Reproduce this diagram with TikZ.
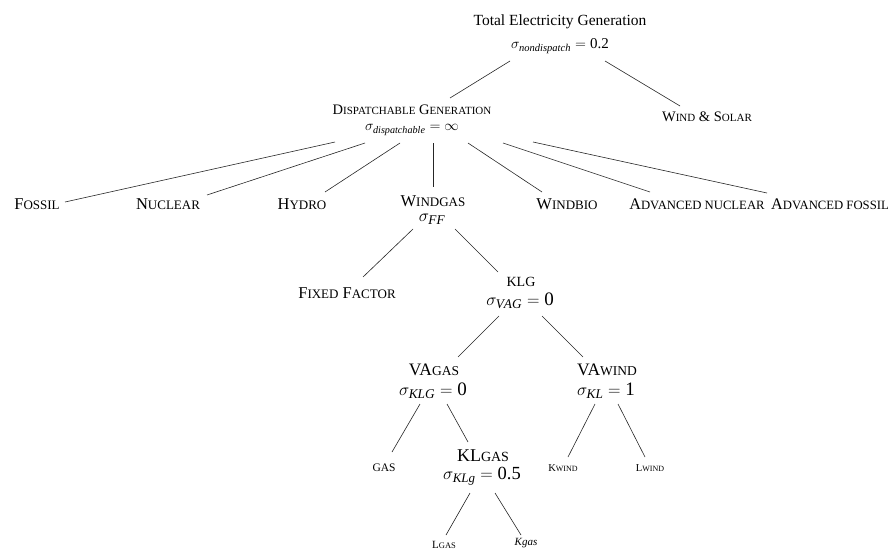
\documentclass[tikz,border=0pt]{standalone}
\usepackage{fontspec}
\setmainfont{Liberation Serif}
\newcommand\fsz[1]{\fontsize{#1}{#1}\selectfont}
\newcommand\conn[6]{\draw[edge] ([shift={(#2,#3)}]#1.center) -- ([shift={(#5,#6)}]#4.center);}
\begin{document}
\begin{tikzpicture}[x=1pt,y=-1pt,
  lbl/.style={inner sep=0pt, outer sep=0pt},
  edge/.style={line width=0.6pt, black!85}]
\useasboundingbox (0,0) rectangle (890,557);
% level 0
\node[lbl] (top) at (560,22) {\fsz{15.5}Total Electricity Generation};
\node[lbl] (topsig) at (560,46) {\fsz{15}$\sigma_{\mathit{nondispatch}} = \mbox{0.2}$};
% level 1
\node[lbl] (disp) at (412,110) {\fsz{14.5}D{\fsz{11}ISPATCHABLE} G{\fsz{11}ENERATION}};
\node[lbl] (dispsig) at (412,130) {\fsz{14.5}$\sigma_{\mathit{dispatchable}} = \infty$};
\node[lbl] (ws) at (707,117) {\fsz{14.5}W{\fsz{11}IND} \& S{\fsz{11}OLAR}};
% level 2
\node[lbl] (fossil) at (37,204) {\fsz{16.5}F{\fsz{13}OSSIL}};
\node[lbl] (nuclear) at (168,204) {\fsz{16.5}N{\fsz{13}UCLEAR}};
\node[lbl] (hydro) at (302,204) {\fsz{16.5}H{\fsz{13}YDRO}};
\node[lbl] (windgas) at (433,201) {\fsz{16.5}W{\fsz{13}INDGAS}};
\node[lbl] (windgassig) at (432,219) {\fsz{19}$\sigma_{\mathit{FF}}$};
\node[lbl] (windbio) at (567,204) {\fsz{16.5}W{\fsz{13}INDBIO}};
\node[lbl] (advnuc) at (697,204) {\fsz{16.2}A{\fsz{12.7}DVANCED NUCLEAR}};
\node[lbl] (advfos) at (830,204) {\fsz{16.2}A{\fsz{12.7}DVANCED FOSSIL}};
% level 3
\node[lbl] (fixed) at (347,293) {\fsz{16.5}F{\fsz{13}IXED} F{\fsz{13}ACTOR}};
\node[lbl] (klg) at (521,282) {\fsz{14}KLG};
\node[lbl] (klgsig) at (520,301) {\fsz{19}$\sigma_{\mathit{VAG}} = \mbox{0}$};
% level 4
\node[lbl] (vagas) at (434,370) {\fsz{17.5}VA{\fsz{13.5}GAS}};
\node[lbl] (vagassig) at (433,391) {\fsz{19}$\sigma_{\mathit{KLG}} = \mbox{0}$};
\node[lbl] (vawind) at (607,370) {\fsz{17.5}VA{\fsz{13.5}WIND}};
\node[lbl] (vawindsig) at (606,391) {\fsz{19}$\sigma_{\mathit{KL}} = \mbox{1}$};
% level 5
\node[lbl] (gas) at (384,468) {\fsz{11.5}GAS};
\node[lbl] (klgas) at (483,456) {\fsz{18}KL{\fsz{14}GAS}};
\node[lbl] (klgassig) at (482,476) {\fsz{18.5}$\sigma_{\mathit{KLg}} = \mbox{0.5}$};
\node[lbl] (kwind) at (563,468) {\fsz{10.5}K{\fsz{8}WIND}};
\node[lbl] (lwind) at (650,468) {\fsz{10.5}L{\fsz{8}WIND}};
% level 6
\node[lbl] (lgas) at (444,545) {\fsz{11}L{\fsz{8.5}GAS}};
\node[lbl] (kgas) at (526,543) {\fsz{11}\textit{Kgas}};
% connectors
\conn{topsig}{-50}{15}{disp}{38}{-12}
\conn{topsig}{45}{15}{ws}{-27}{-11}
\conn{dispsig}{-77}{12}{fossil}{28}{-2}
\conn{dispsig}{-47}{13}{nuclear}{39}{-9}
\conn{dispsig}{-12}{13}{hydro}{23}{-12}
\conn{dispsig}{21}{13}{windgas}{0}{-14}
\conn{dispsig}{56}{13}{windbio}{-25}{-12}
\conn{dispsig}{91}{13}{advnuc}{-47}{-12}
\conn{dispsig}{121}{12}{advfos}{-63}{-11}
\conn{windgassig}{-19}{10}{fixed}{16}{-16}
\conn{windgassig}{23}{10}{klg}{-23}{-10}
\conn{klgsig}{-21}{15}{vagas}{24}{-13}
\conn{klgsig}{22}{15}{vawind}{-24}{-13}
\conn{vagassig}{-13}{13}{gas}{8}{-16}
\conn{vagassig}{14}{13}{klgas}{-15}{-14}
\conn{vawindsig}{-11}{13}{kwind}{5}{-11}
\conn{vawindsig}{12}{13}{lwind}{-5}{-11}
\conn{klgassig}{-12}{17}{lgas}{2}{-10}
\conn{klgassig}{13}{17}{kgas}{-5}{-8}
\end{tikzpicture}
\end{document}
